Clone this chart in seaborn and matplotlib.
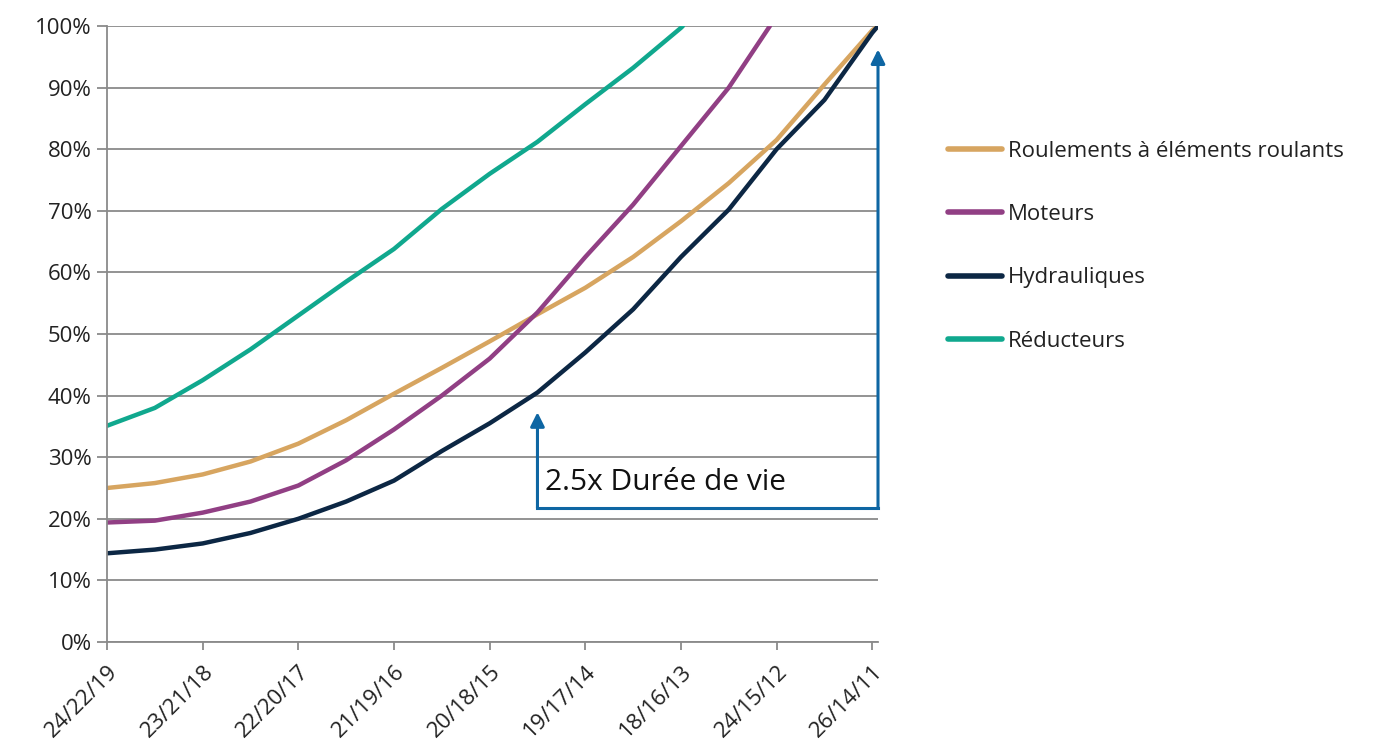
import matplotlib
matplotlib.use("Agg")
import matplotlib.pyplot as plt
from matplotlib.ticker import FuncFormatter
import numpy as np
import pandas as pd
import seaborn as sns

# Category labels along the x axis
categories = ["24/22/19", "23/21/18", "22/20/17", "21/19/16", "20/18/15",
              "19/17/14", "18/16/13", "24/15/12", "26/14/11"]

# Sampled positions (in category units) and percentage values for each series
x_roulements = [0, 0.5, 1, 1.5, 2, 2.5, 3, 3.5, 4, 4.5, 5, 5.5, 6, 6.5, 7, 7.5, 8, 8.06]
y_roulements = [25.0, 25.8, 27.2, 29.3, 32.2, 36.0, 40.3, 44.5, 48.8, 53.2, 57.5,
                62.5, 68.3, 74.5, 81.5, 90.5, 99.3, 100]

x_moteurs = [0, 0.5, 1, 1.5, 2, 2.5, 3, 3.5, 4, 4.5, 5, 5.5, 6, 6.5, 6.93]
y_moteurs = [19.4, 19.7, 21.0, 22.8, 25.4, 29.5, 34.5, 40.0, 46.0, 53.5, 62.5,
             71.0, 80.5, 90.0, 100]

x_hydrauliques = [0, 0.5, 1, 1.5, 2, 2.5, 3, 3.5, 4, 4.5, 5, 5.5, 6, 6.5, 7, 7.5, 8, 8.06]
y_hydrauliques = [14.4, 15.0, 16.0, 17.7, 20.0, 22.8, 26.2, 31.0, 35.5, 40.5, 47.0,
                  54.0, 62.5, 70.2, 80.0, 88.0, 98.9, 100]

x_reducteurs = [0, 0.5, 1, 1.5, 2, 2.5, 3, 3.5, 4, 4.5, 5, 5.5, 6, 6.02]
y_reducteurs = [35.1, 38.0, 42.5, 47.5, 53.0, 58.5, 63.8, 70.3, 76.0, 81.2, 87.3,
                93.2, 99.7, 100]

series_names = ["Roulements à éléments roulants", "Moteurs", "Hydrauliques", "Réducteurs"]
series_colors = ["#D7A560", "#913F84", "#0C2744", "#10A88E"]

# Bracket annotation: start, end (category units), base level and arrow tips (%)
life_label = "2.5x Durée de vie"
bracket_x = [4.5, 8.06]
bracket_base = 21.75
bracket_tips = [37.3, 96.2]

frames = []
for name, xs, ys in zip(series_names,
                        [x_roulements, x_moteurs, x_hydrauliques, x_reducteurs],
                        [y_roulements, y_moteurs, y_hydrauliques, y_reducteurs]):
    frames.append(pd.DataFrame({"pos": xs, "val": ys, "serie": name}))
df = pd.concat(frames, ignore_index=True)

sns.set_theme(style="white")
plt.rcParams["font.family"] = ["Open Sans", "DejaVu Sans"]

fig = plt.figure(figsize=(13.92, 7.47), dpi=100)
ax = fig.add_axes([107 / 1392, 1 - 642 / 747, (878 - 107) / 1392, (642 - 26) / 747])

grid_color = "#8a8a8a"
ax.set_xlim(0, 8.06)
ax.set_ylim(0, 100)
ax.set_yticks(np.arange(0, 101, 10))
ax.yaxis.grid(True, color=grid_color, linewidth=1.3)
ax.set_axisbelow(True)

sns.lineplot(data=df, x="pos", y="val", hue="serie", hue_order=series_names,
             palette=series_colors, linewidth=3.2, sort=False, estimator=None,
             ax=ax, legend=True)
for line in ax.get_lines():
    line.set_solid_joinstyle("round")

ax.yaxis.set_major_formatter(FuncFormatter(lambda v, _: f"{v:.0f}%"))
ax.set_xticks(np.arange(len(categories)))
ax.set_xticklabels(categories, rotation=45, ha="right", rotation_mode="anchor")
ax.set_xlabel("")
ax.set_ylabel("")

for side in ["top", "right"]:
    ax.spines[side].set_visible(False)
for side in ["left", "bottom"]:
    ax.spines[side].set_color(grid_color)
    ax.spines[side].set_linewidth(1.3)

ax.tick_params(axis="y", which="major", direction="out", length=7, width=1.3,
               color=grid_color, labelsize=16, labelcolor="#222222", pad=4, left=True)
ax.tick_params(axis="x", which="major", direction="out", length=6, width=1.3,
               color=grid_color, labelsize=16, labelcolor="#222222", pad=8, bottom=True)

# Lifetime bracket with two upward arrows
blue = "#0E66A3"
ax.plot([bracket_x[0], bracket_x[1]], [bracket_base, bracket_base], color=blue,
        linewidth=2.2, solid_capstyle="projecting", clip_on=False)
for bx, tip in zip(bracket_x, bracket_tips):
    ax.annotate("", xy=(bx, tip), xytext=(bx, bracket_base),
                arrowprops=dict(arrowstyle="-|>,head_length=0.7,head_width=0.35",
                                color=blue, linewidth=2.2, shrinkA=0, shrinkB=0),
                annotation_clip=False)
ax.text(bracket_x[0] + 0.08, 24.7, life_label, fontsize=21.5,
        color="#111111", ha="left", va="baseline")

# Legend on the right side
leg = ax.legend(loc="upper left", bbox_to_anchor=(939 / 1392, 1 - 132 / 747),
                bbox_transform=fig.transFigure, frameon=False, fontsize=16,
                handlelength=2.45, handletextpad=0.25, labelspacing=1.9,
                borderaxespad=0)
for line in leg.get_lines():
    line.set_linewidth(4)
    line.set_solid_capstyle("round")
for t in leg.get_texts():
    t.set_color("#222222")

fig.savefig("out.png", dpi=100, facecolor="white")
